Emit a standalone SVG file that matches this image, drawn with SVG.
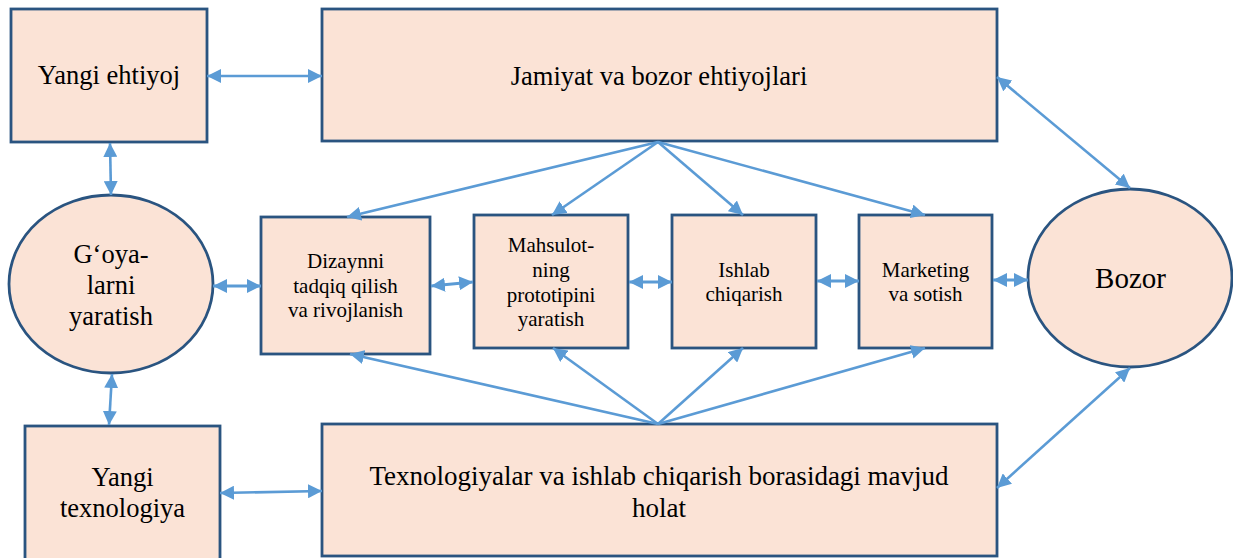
<svg xmlns="http://www.w3.org/2000/svg" width="1233" height="558" viewBox="0 0 1233 558">
  <style>
    .box { fill: #FBE3D6; stroke: #2A5480; stroke-width: 2.8; }
    .lbl { fill: #000; text-anchor: middle; }
    .big { font-size: 26.5px; }
    .small { font-size: 21px; }
    .link { stroke: #5B9BD5; stroke-width: 2.6; fill: none; marker-end: url(#head); }
    .both { marker-start: url(#head); }
    .thick { stroke-width: 3.2; }
  </style>
  <defs>
    <marker id="head" markerUnits="userSpaceOnUse" markerWidth="14" markerHeight="14" refX="14" refY="7" orient="auto-start-reverse">
      <path d="M0,0 L14,7 L0,14 z" fill="#5B9BD5"/>
    </marker>
  </defs>

  <rect width="1233" height="558" fill="#FFFFFF"/>

  <!-- nodes -->
  <g id="yangi-ehtiyoj">
    <rect class="box" x="11" y="9" width="196" height="133"/>
    <text class="lbl big" font-family="Liberation Serif" x="109" y="84">Yangi ehtiyoj</text>
  </g>
  <g id="jamiyat">
    <rect class="box" x="322" y="9" width="675" height="132"/>
    <text class="lbl big" font-family="Liberation Serif" x="659" y="85">Jamiyat va bozor ehtiyojlari</text>
  </g>
  <g id="goya">
    <ellipse class="box" cx="111" cy="284" rx="102" ry="89"/>
    <text class="lbl big" font-family="Liberation Serif" x="111" y="263">G‘oya-</text>
    <text class="lbl big" font-family="Liberation Serif" x="111" y="294">larni</text>
    <text class="lbl big" font-family="Liberation Serif" x="111" y="325">yaratish</text>
  </g>
  <g id="dizayn">
    <rect class="box" x="261" y="217" width="169" height="137"/>
    <text class="lbl small" font-family="Liberation Serif" x="345.5" y="268">Dizaynni</text>
    <text class="lbl small" font-family="Liberation Serif" x="345.5" y="293">tadqiq qilish</text>
    <text class="lbl small" font-family="Liberation Serif" x="345.5" y="317">va rivojlanish</text>
  </g>
  <g id="prototip">
    <rect class="box" x="474" y="215" width="154" height="133"/>
    <text class="lbl small" font-family="Liberation Serif" x="551" y="252">Mahsulot-</text>
    <text class="lbl small" font-family="Liberation Serif" x="551" y="277">ning</text>
    <text class="lbl small" font-family="Liberation Serif" x="551" y="302">prototipini</text>
    <text class="lbl small" font-family="Liberation Serif" x="551" y="326">yaratish</text>
  </g>
  <g id="ishlab">
    <rect class="box" x="672" y="215" width="144" height="133"/>
    <text class="lbl small" font-family="Liberation Serif" x="744" y="277">Ishlab</text>
    <text class="lbl small" font-family="Liberation Serif" x="744" y="301">chiqarish</text>
  </g>
  <g id="marketing">
    <rect class="box" x="859" y="215" width="133" height="133"/>
    <text class="lbl small" font-family="Liberation Serif" x="925.5" y="277">Marketing</text>
    <text class="lbl small" font-family="Liberation Serif" x="925.5" y="301">va sotish</text>
  </g>
  <g id="bozor">
    <ellipse class="box" cx="1130" cy="278" rx="102" ry="89"/>
    <text class="lbl" font-family="Liberation Serif" font-size="29" x="1130.5" y="288">Bozor</text>
  </g>
  <g id="yangi-texnologiya">
    <rect class="box" x="25" y="426" width="195" height="136"/>
    <text class="lbl big" font-family="Liberation Serif" x="122.5" y="486">Yangi</text>
    <text class="lbl big" font-family="Liberation Serif" x="122.5" y="517">texnologiya</text>
  </g>
  <g id="texnologiyalar">
    <rect class="box" x="322" y="424" width="675" height="132"/>
    <text class="lbl" font-family="Liberation Serif" x="659" y="485" font-size="27">Texnologiyalar va ishlab chiqarish borasidagi mavjud</text>
    <text class="lbl" font-family="Liberation Serif" x="659" y="517" font-size="27">holat</text>
  </g>

  <!-- connectors -->
  <g id="connectors">
    <!-- two-way links along the outer frame -->
    <line class="link both" x1="207" y1="76" x2="322" y2="76"/>
    <line class="link both" x1="110" y1="143" x2="111" y2="195"/>
    <line class="link both" x1="112" y1="374" x2="109" y2="425"/>
    <line class="link both" x1="220" y1="493" x2="322" y2="491"/>
    <line class="link both" x1="997" y1="77" x2="1130" y2="188"/>
    <line class="link both" x1="997" y1="488" x2="1130" y2="368"/>
    <!-- two-way links along the middle row -->
    <line class="link both thick" x1="213" y1="286" x2="261" y2="286"/>
    <line class="link both thick" x1="431" y1="286" x2="473" y2="282"/>
    <line class="link both thick" x1="629" y1="282" x2="672" y2="282"/>
    <line class="link both thick" x1="817" y1="281" x2="859" y2="281"/>
    <line class="link both thick" x1="993" y1="280" x2="1028" y2="280"/>
    <!-- needs fan out to each stage -->
    <line class="link" x1="658" y1="142" x2="347" y2="217"/>
    <line class="link" x1="658" y1="142" x2="552" y2="215"/>
    <line class="link" x1="658" y1="142" x2="743" y2="215"/>
    <line class="link" x1="658" y1="142" x2="925" y2="215"/>
    <!-- technology base feeds each stage -->
    <line class="link" x1="658" y1="424" x2="350" y2="354"/>
    <line class="link" x1="658" y1="424" x2="553" y2="348"/>
    <line class="link" x1="658" y1="424" x2="743" y2="348"/>
    <line class="link" x1="658" y1="424" x2="925" y2="348"/>
  </g>
</svg>
